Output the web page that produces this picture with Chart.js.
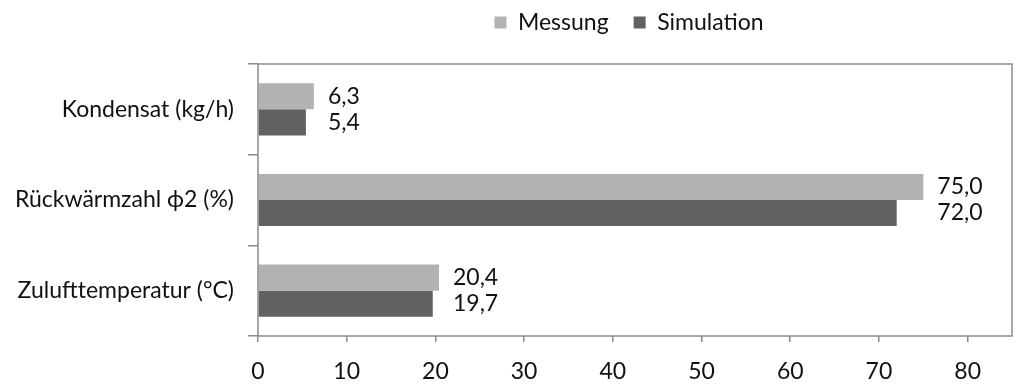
<!DOCTYPE html>
<html>
<head>
<meta charset="utf-8">
<script src="https://cdn.jsdelivr.net/npm/chart.js@4"></script>
<style>
  html, body { margin: 0; padding: 0; background: #fff; }
  #wrap { width: 1024px; height: 391px; }
</style>
</head>
<body>
<div id="wrap"><canvas id="chart"></canvas></div>
<script>
// chart data
const categories = ['Kondensat (kg/h)', 'Rückwärmzahl ϕ2 (%)', 'Zulufttemperatur (°C)'];
const seriesNames = ['Messung', 'Simulation'];
const messung = [6.3, 75.0, 20.4];
const simulation = [5.4, 72.0, 19.7];
const xTicks = [0, 10, 20, 30, 40, 50, 60, 70, 80];
const colors = ['#b2b2b2', '#616161'];

const FONT = 'Lato, "Open Sans", sans-serif';
const FS = 23;
const axisColor = '#8a8a8a';

// frame around the plot area
const frame = {
    id: 'frame',
    afterDatasetsDraw(chart) {
        const a = chart.chartArea;
        const ctx = chart.ctx;
        ctx.save();
        ctx.strokeStyle = axisColor;
        ctx.lineWidth = 1.5;
        ctx.strokeRect(a.left, a.top, a.right - a.left, a.bottom - a.top);
        ctx.restore();
    }
};

// value labels: both labels of a category start after the longer bar
const valueLabels = {
    id: 'valueLabels',
    afterDatasetsDraw(chart) {
        const ctx = chart.ctx;
        const m0 = chart.getDatasetMeta(0).data;
        const m1 = chart.getDatasetMeta(1).data;
        ctx.save();
        ctx.font = FS + 'px ' + FONT;
        ctx.fillStyle = '#111';
        ctx.textAlign = 'left';
        ctx.textBaseline = 'middle';
        categories.forEach((c, i) => {
            const x = Math.max(m0[i].x, m1[i].x) + 14;
            ctx.fillText(messung[i].toFixed(1).replace('.', ','), x, m0[i].y);
            ctx.fillText(simulation[i].toFixed(1).replace('.', ','), x, m1[i].y);
        });
        ctx.restore();
    }
};

// fixed legend height, legend moved up and to the right like the original
const legendPlace = {
    id: 'legendPlace',
    beforeInit(chart) {
        const fit = chart.legend.fit;
        chart.legend.fit = function () {
            fit.bind(chart.legend)();
            this.height = 64;
        };
    },
    afterLayout(chart) {
        const lg = chart.legend;
        lg.top -= 14;
        lg.left += 123;
        lg.right += 123;
    }
};

const ctx = document.getElementById('chart').getContext('2d');
new Chart(ctx, {
    type: 'bar',
    data: {
        labels: categories,
        datasets: [
            { label: seriesNames[0], data: messung, backgroundColor: colors[0] },
            { label: seriesNames[1], data: simulation, backgroundColor: colors[1] }
        ]
    },
    options: {
        indexAxis: 'y',
        responsive: true,
        maintainAspectRatio: false,
        animation: false,
        layout: { padding: { left: 0, right: 12, top: 0, bottom: 0 } },
        datasets: { bar: { categoryPercentage: 0.575, barPercentage: 1.0 } },
        plugins: {
            legend: {
                position: 'top',
                labels: {
                    font: { family: FONT, size: FS },
                    color: '#111',
                    boxWidth: 12,
                    boxHeight: 12,
                    padding: 25
                }
            },
            tooltip: { enabled: false }
        },
        scales: {
            x: {
                min: 0,
                max: 85,
                afterBuildTicks(scale) {
                    scale.ticks = xTicks.map(v => ({ value: v }));
                },
                afterFit(scale) { scale.height = 55; },
                grid: { drawOnChartArea: false, drawTicks: true, tickLength: 6, color: axisColor, lineWidth: 1.5 },
                border: { display: false },
                ticks: { font: { family: FONT, size: FS }, color: '#111', padding: 16 }
            },
            y: {
                afterFit(scale) { scale.width = 258; },
                grid: { offset: true, drawOnChartArea: false, drawTicks: true, tickLength: 10, color: axisColor, lineWidth: 1.5 },
                border: { display: false },
                ticks: { font: { family: FONT, size: FS }, color: '#111', padding: 14 }
            }
        }
    },
    plugins: [frame, valueLabels, legendPlace]
});
</script>
</body>
</html>
